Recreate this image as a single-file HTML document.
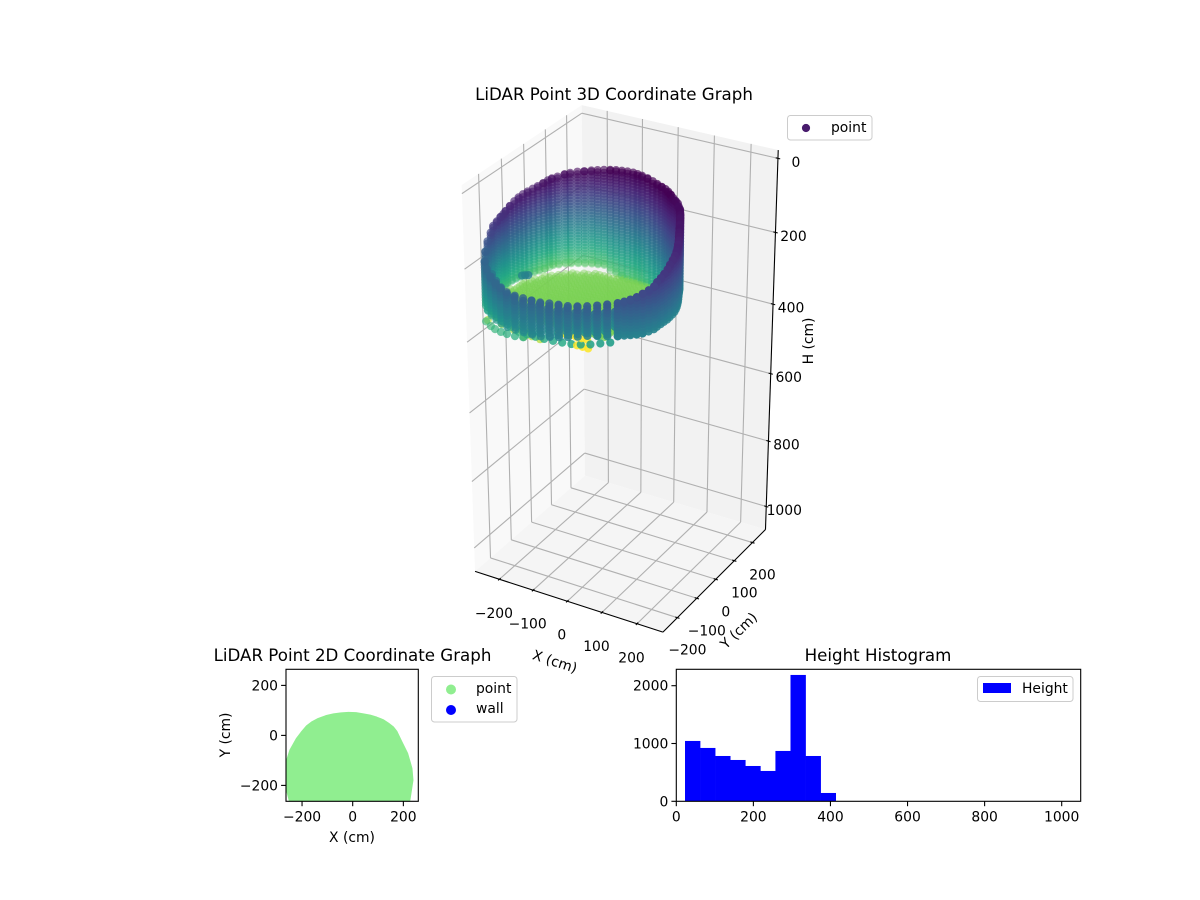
<!DOCTYPE html>
<html lang="en">
<head>
<meta charset="utf-8">
<title>LiDAR Point Graphs</title>
<style>
html,body{margin:0;padding:0;background:#fff}
svg{display:block}
text{font-family:"DejaVu Sans","Liberation Sans",sans-serif;fill:#000}
.t{font-size:13.89px}
.h{font-size:16.67px}
</style>
</head>
<body>
<svg id="figure" xmlns="http://www.w3.org/2000/svg" width="1200" height="900" viewBox="0 0 1200 900">
  <rect width="1200" height="900" fill="#fff"/>
  <defs>
    <clipPath id="clip2d"><rect x="286" y="669.3" width="132.3" height="132"/></clipPath>
  </defs>

  <g id="chart3d"></g>
  <text class="h" x="614" y="100" text-anchor="middle">LiDAR Point 3D Coordinate Graph</text>
  <g>
    <rect x="787.5" y="115.5" width="84.5" height="24.5" rx="3" fill="#fff" fill-opacity="0.8" stroke="#ccc"/>
    <circle cx="806" cy="128" r="4.1" fill="#481b6d"/>
    <text class="t" x="831" y="132">point</text>
  </g>
  <text class="t" text-anchor="middle" transform="translate(553.5 666) rotate(18)">X (cm)</text>
  <text class="t" text-anchor="middle" transform="translate(742 634) rotate(-44)">Y (cm)</text>
  <text class="t" text-anchor="middle" transform="translate(813 341) rotate(-90)">H (cm)</text>

  <g id="chart2d"></g>
  <text class="h" x="352.5" y="661" text-anchor="middle">LiDAR Point 2D Coordinate Graph</text>
  <text class="t" x="352" y="842" text-anchor="middle">X (cm)</text>
  <text class="t" text-anchor="middle" transform="translate(230 735) rotate(-90)">Y (cm)</text>
  <g>
    <rect x="431.5" y="676.5" width="85.5" height="45.5" rx="3" fill="#fff" fill-opacity="0.8" stroke="#ccc"/>
    <circle cx="451" cy="689.5" r="5" fill="#90ee90"/>
    <text class="t" x="476" y="693">point</text>
    <circle cx="451" cy="710" r="5" fill="#0000ff"/>
    <text class="t" x="476" y="713">wall</text>
  </g>

  <g id="charthist"></g>
  <text class="h" x="878" y="661" text-anchor="middle">Height Histogram</text>
  <g>
    <rect x="977.5" y="676.5" width="95.5" height="25" rx="3" fill="#fff" fill-opacity="0.8" stroke="#ccc"/>
    <rect x="983" y="683" width="28" height="10" fill="#0000ff"/>
    <text class="t" x="1022" y="693">Height</text>
  </g>
</svg>

<script>
// ---- histogram data ----
const histEdgeStart = 22.6;
const histBinWidth = 39.1;
const histCounts = [1044, 923, 784, 715, 611, 525, 871, 2186, 784, 144];
const histXTicks = [0, 200, 400, 600, 800, 1000];
const histYTicks = [0, 1000, 2000];

// ---- 2D / 3D ticks ----
const xTicks2d = [-200, 0, 200];
const yTicks2d = [-200, 0, 200];
const xTicks3d = [-200, -100, 0, 100, 200];
const yTicks3d = [-200, -100, 0, 100, 200];
const hTicks3d = [0, 200, 400, 600, 800, 1000];

// ---- 2D footprint outline ----
const footprintX = [-250,-264,-264,-247,-221,-203,-182,-160,-136,-106,-76,-46,-17,13,42,69,95,120,141,160,174,193,216,233,237,229,224,150,-150,-240];
const footprintY = [-259,-205,-112,-59,-12,12,37,54,67,78,85,89,91,90,85,80,72,62,48,33,15,-25,-72,-132,-179,-232,-264,-300,-300,-280];

// ---- point cloud data: wall columns around the room ----
const wallX = [-15,-3,10,26,42,56,70,82,92,102,112,122,131,138,146,152,157,162,167,172,178,184,190,196,201,206,210,214,216,217,218,217,216,214,214,208,200,190,178,165,150,125,100,75,50,25,0,-25,-50,-75,-100,-125,-150,-172,-192,-212,-230,-245,-254,-257,-257,-256,-255,-254,-252,-252,-249,-246,-243,-240,-234,-227,-220,-212,-205,-198,-188,-176,-165,-150,-135,-120,-105,-90,-75,-60,-45,-30];
const wallY = [79,79,78,76,73,70,67,64,60,54,48,42,36,28,20,10,2,-8,-18,-28,-40,-52,-64,-76,-88,-100,-112,-126,-140,-155,-168,-182,-196,-210,-224,-238,-252,-262,-270,-276,-280,-285,-288,-291,-293,-295,-295,-295,-295,-293,-290,-287,-283,-275,-265,-255,-243,-228,-210,-195,-180,-170,-155,-140,-130,-120,-105,-90,-75,-60,-48,-36,-24,-12,-2,5,15,28,36,45,52,60,64,69,73,75,77,78];
const wallRim = [27,28,29,31,34,37,40,42,45,48,52,55,57,60,62,65,67,70,73,76,80,84,88,92,96,99,102,106,110,116,122,128,133,138,143,148,153,160,166,172,178,186,194,201,207,212,215,218,222,224,226,227,226,224,220,212,202,192,175,155,138,124,118,112,108,104,96,89,84,81,77,73,69,64,59,55,52,48,45,42,40,38,35,33,31,29,28,27];
const wallBase = [320,320,318,316,314,310,306,300,294,292,290,288,286,280,275,270,265,262,260,258,256,255,255,255,255,255,255,255,255,255,255,255,255,256,256,257,258,259,260,262,266,270,275,280,288,295,302,308,313,316,318,319,320,320,320,318,315,312,310,307,301,300,300,300,300,300,300,300,300,300,300,300,300,298,296,292,292,292,292,292,292,292,292,292,305,310,315,320,320,320];
const wallColorTop = [0,0,0,0,0,0,0,0,0,0,.01,.02,.02,.03,.03,.03,.04,.05,.05,.06,.06,.07,.08,.09,.10,.10,.11,.12,.13,.14,.15,.16,.17,.18,.20,.21,.22,.24,.25,.26,.27,.28,.29,.30,.30,.31,.31,.31,.32,.32,.32,.32,.32,.33,.33,.33,.33,.32,.30,.25,.20,.17,.15,.14,.13,.12,.10,.09,.08,.07,.07,.06,.06,.05,.05,.04,.04,.03,.03,.02,.02,.02,.01,.01,0,0,0,0];
const wallColorBottom = [.72,.72,.70,.68,.65,.62,.58,.55,.52,.50,.48,.47,.46,.45,.45,.45,.45,.45,.45,.45,.45,.45,.45,.44,.44,.44,.44,.44,.44,.44,.44,.44,.44,.44,.44,.44,.44,.44,.44,.44,.44,.44,.44,.44,.44,.44,.44,.44,.45,.46,.47,.48,.50,.52,.54,.56,.58,.60,.62,.62,.64,.66,.68,.68,.68,.68,.68,.68,.68,.68,.70,.72,.74,.74,.74,.74,.74,.74,.74,.74,.74,.74,.73,.73,.73,.73,.72,.72];
const wallLevels = [33,41,49,57,65,73,81,89,97,105,113,121,129,137,145,153,161,169,177,185,193,201,209,217,225,233,241,249,257,265,273,281,289,297,305,313,321,329,337,345,353];

// second layer of the front wall, seen between the front columns
const innerX = [190,165,137,112,87,62,37,12,-12,-37,-62,-87,-112,-137,-160,-182,-202,-221];
const innerY = [-250,-262,-270,-274,-277,-279,-281,-282,-282,-282,-281,-278,-275,-271,-265,-257,-247,-235];
const innerRim = [185,195,205,212,218,224,228,232,235,238,240,242,242,240,236,228,218,210];
const innerBase = [240,245,255,265,275,285,293,300,305,310,314,318,320,320,318,315,312,308];
const innerColorRange = [0.36, 0.5];

// lower skirt of points beneath the front wall
const skirtX = [130,105,80,55,30,5,-20,-45,-70,-95,-120,-145,-170,-190,-210,-228,-243,-235,-215,-195,-172,-150,-125,-100];
const skirtY = [-280,-283,-286,-288,-289,-289,-289,-288,-286,-284,-281,-277,-270,-260,-250,-238,-224,-245,-255,-268,-278,-286,-290,-293];
const skirtH = [288,296,304,310,315,318,320,322,324,325,326,322,318,314,312,310,308,345,348,345,342,338,335,330];
const skirtColor = [.55,.56,.57,.58,.59,.60,.60,.60,.61,.62,.63,.65,.67,.68,.69,.70,.70,.66,.66,.65,.64,.63,.62,.61];

// deepest (yellow) returns
const deepX = [-5,10,25,40,55,70,45,60,75];
const deepY = [-284,-284,-284,-284,-284,-284,-288,-288,-288];
const deepH = [295,295,295,295,295,295,315,315,315];

const floorXs = [-262,-250,-237,-225,-212,-200,-187,-175,-162,-150,-137,-125,-112,-100,-87,-75,-62,-50,-37,-25,-12,0,12,25,37,50,62,75,87,100,112,125,137,150,162,175,187,200,212,225];
const floorYs = [75,62,50,37,25,12,0,-12,-25,-37,-50,-62,-75,-87,-100,-112,-125,-137,-150,-162,-175,-187,-200,-212];
const floorRowMaxX = [100,100,120,130,130,130,130,130,130,130,130,125,125,120,120,115,110,105,100,95,90,85,80,75];
const floorHeight = [320];
const extraX = [-127,-117,-107,-240,-200,-160,-120,-240,-200,-160,-120,-80,-220,-180,-140,-100];
const extraY = [-250,-252,-254,-230,-230,-240,-260,-200,-200,-210,-230,-250,-215,-225,-240,-255];
const extraH = [190,186,182,350,350,350,350,350,350,350,350,350,345,345,345,345];

// ---- axis limits ----
const xLim3d = [-273, 273];
const yLim3d = [-273, 273];
const hLim3d = [-22, 1072];
const heightColorRange = [23, 395];
const viridisStops = ['#440154','#482475','#414487','#355f8d','#2a788e','#21918c','#22a884','#44bf70','#7ad151','#bddf26','#fde725'];

const NS = 'http://www.w3.org/2000/svg';
function mk(tag, parent, attrs) {
  const el = document.createElementNS(NS, tag);
  for (const k in attrs) el.setAttribute(k, attrs[k]);
  parent.appendChild(el);
  return el;
}

// ---- histogram ----
(function () {
  const g = document.getElementById('charthist');
  const L = 676.3, R = 1080.7, T = 669.3, B = 801.3;
  const sx = v => L + v * 0.3854;
  const sy = v => B - v * 0.0578;
  histCounts.forEach((c, i) => {
    const x0 = sx(histEdgeStart + i * histBinWidth);
    const x1 = sx(histEdgeStart + (i + 1) * histBinWidth);
    const bar = mk('rect', g, {x: x0, y: sy(c), width: x1 - x0 + 0.3, height: B - sy(c), fill: '#0000ff'});
    
    
  });
  histXTicks.forEach(v => {
    const tick = mk('line', g, {x1: sx(v), x2: sx(v), y1: B, y2: B + 4.9, stroke: '#000', 'stroke-width': 1.1});
    
    
    const label = mk('text', g, {x: sx(v), y: B + 20, 'text-anchor': 'middle', class: 't'});
    label.textContent = v;
    
    
  });
  histYTicks.forEach(v => {
    const tick = mk('line', g, {x1: L - 4.9, x2: L, y1: sy(v), y2: sy(v), stroke: '#000', 'stroke-width': 1.1});
    
    
    const label = mk('text', g, {x: L - 8, y: sy(v) + 5, 'text-anchor': 'end', class: 't'});
    label.textContent = v;
    
    
  });
  const frame = mk('rect', g, {x: L, y: T, width: R - L, height: B - T, fill: 'none', stroke: '#000', 'stroke-width': 1.1});
  
  
})();

// ---- 2D footprint ----
(function () {
  const g = document.getElementById('chart2d');
  const L = 286, R = 418.3, T = 669.3, B = 801.3;
  const sx = v => 352.7 + v * 0.2533;
  const sy = v => 735.4 - v * 0.25;
  const pts = footprintX.map((x, i) => sx(x) + ',' + sy(footprintY[i])).join(' ');
  const shape = mk('polygon', g, {points: pts, fill: '#90ee90', stroke: '#90ee90', 'stroke-width': 1.5, 'stroke-linejoin': 'round', 'clip-path': 'url(#clip2d)'});
  
  
  xTicks2d.forEach(v => {
    const tick = mk('line', g, {x1: sx(v), x2: sx(v), y1: B, y2: B + 4.9, stroke: '#000', 'stroke-width': 1.1});
    
    
    const label = mk('text', g, {x: sx(v), y: B + 20, 'text-anchor': 'middle', class: 't'});
    label.textContent = String(v).replace('-', '\u2212');
    
    
  });
  yTicks2d.forEach(v => {
    const tick = mk('line', g, {x1: L - 4.9, x2: L, y1: sy(v), y2: sy(v), stroke: '#000', 'stroke-width': 1.1});
    
    
    const label = mk('text', g, {x: L - 8, y: sy(v) + 5, 'text-anchor': 'end', class: 't'});
    label.textContent = String(v).replace('-', '\u2212');
    
    
  });
  const frame = mk('rect', g, {x: L, y: T, width: R - L, height: B - T, fill: 'none', stroke: '#000', 'stroke-width': 1.1});
  
  
})();

// ---- 3D chart ----
(function () {
  const g = document.getElementById('chart3d');
  // box roughly proportional to the data ranges
  const k = 1.8294640721620434 / Math.sqrt(6);
  const box = [1 * k, 1 * k, 2.08 * k];
  const el = 30 * Math.PI / 180, az = -60 * Math.PI / 180, dist = 9;
  const dir = [Math.cos(el) * Math.cos(az), Math.cos(el) * Math.sin(az), Math.sin(el)];
  const center = box.map(b => b / 2);
  const eye = center.map((c, i) => c + dist * dir[i]);
  const cross = (a, b) => [a[1]*b[2]-a[2]*b[1], a[2]*b[0]-a[0]*b[2], a[0]*b[1]-a[1]*b[0]];
  const dot = (a, b) => a[0]*b[0] + a[1]*b[1] + a[2]*b[2];
  const w = dir;
  let u = cross([0, 0, 1], w);
  const un = Math.sqrt(dot(u, u));
  u = u.map(c => c / un);
  const v = cross(w, u);

  function raw(x, y, h) {
    const p = [
      (x - xLim3d[0]) / (xLim3d[1] - xLim3d[0]) * box[0],
      (y - yLim3d[0]) / (yLim3d[1] - yLim3d[0]) * box[1],
      (hLim3d[1] - h) / (hLim3d[1] - hLim3d[0]) * box[2]
    ];
    const d = [p[0] - eye[0], p[1] - eye[1], p[2] - eye[2]];
    const depth = -dot(d, w);
    return [dot(d, u) / depth, dot(d, v) / depth, depth];
  }

  const X0 = xLim3d[0], X1 = xLim3d[1], Y0 = yLim3d[0], Y1 = yLim3d[1], HT = hLim3d[0], HB = hLim3d[1];
  // calibration of the view onto figure pixels, from the box corners
  const calib = [
    [X0, Y0, HB, 474, 572], [X1, Y0, HB, 663, 635], [X1, Y1, HB, 766, 528], [X0, Y1, HB, 584, 472],
    [X0, Y0, HT, 463, 190], [X0, Y1, HT, 582, 106], [X1, Y1, HT, 778, 146]
  ];
  function fit(ax, px) {
    const n = ax.length, ma = ax.reduce((s, a) => s + a, 0) / n, mp = px.reduce((s, a) => s + a, 0) / n;
    let num = 0, den = 0;
    ax.forEach((a, i) => { num += (a - ma) * (px[i] - mp); den += (a - ma) * (a - ma); });
    const m = num / den;
    return [m, mp - m * ma];
  }
  const rawC = calib.map(c => raw(c[0], c[1], c[2]));
  const fx = fit(rawC.map(r => r[0]), calib.map(c => c[3]));
  const fy = fit(rawC.map(r => r[1]), calib.map(c => c[4]));
  function P(x, y, h) {
    const r = raw(x, y, h);
    return [fx[0] * r[0] + fx[1], fy[0] * r[1] + fy[1], r[2]];
  }
  function poly(corners, fill, name) {
    const pts = corners.map(c => { const p = P(c[0], c[1], c[2]); return p[0] + ',' + p[1]; }).join(' ');
    const el = mk('polygon', g, {points: pts, fill: fill});
    
    
  }
  function seg(a, b, stroke, sw, name) {
    const p = P(a[0], a[1], a[2]), q = P(b[0], b[1], b[2]);
    const el = mk('line', g, {x1: p[0], y1: p[1], x2: q[0], y2: q[1], stroke: stroke, 'stroke-width': sw});
    
    
  }
  poly([[X0,Y0,HB],[X0,Y1,HB],[X0,Y1,HT],[X0,Y0,HT]], '#f9f9f9', 'left-pane');
  poly([[X0,Y1,HB],[X1,Y1,HB],[X1,Y1,HT],[X0,Y1,HT]], '#f2f2f2', 'back-pane');
  poly([[X0,Y0,HB],[X1,Y0,HB],[X1,Y1,HB],[X0,Y1,HB]], '#f5f5f5', 'floor-pane');

  const grid = '#b0b0b0';
  xTicks3d.forEach(t => {
    seg([t, Y0, HB], [t, Y1, HB], grid, 1.1, 'x-gridline-floor');
    seg([t, Y1, HB], [t, Y1, HT], grid, 1.1, 'x-gridline-wall');
  });
  yTicks3d.forEach(t => {
    seg([X0, t, HB], [X1, t, HB], grid, 1.1, 'y-gridline-floor');
    seg([X0, t, HB], [X0, t, HT], grid, 1.1, 'y-gridline-wall');
  });
  hTicks3d.forEach(t => {
    seg([X0, Y0, t], [X0, Y1, t], grid, 1.1, 'h-gridline-left');
    seg([X0, Y1, t], [X1, Y1, t], grid, 1.1, 'h-gridline-back');
  });
  seg([X0, Y0, HB], [X1, Y0, HB], '#000', 1.1, 'x-axis-line');
  seg([X1, Y0, HB], [X1, Y1, HB], '#000', 1.1, 'y-axis-line');
  seg([X1, Y1, HB], [X1, Y1, HT], '#000', 1.1, 'h-axis-line');

  xTicks3d.forEach(t => {
    seg([t, Y0 + 6, HB], [t, Y0 - 6, HB], '#000', 1.1, 'x-tick');
    const p = P(t, Y0, HB);
    const label = mk('text', g, {x: p[0] - 5.5, y: p[1] + 38.5, 'text-anchor': 'middle', class: 't'});
    label.textContent = String(t).replace('-', '\u2212');
    
    
  });
  yTicks3d.forEach(t => {
    seg([X1 - 6, t, HB], [X1 + 6, t, HB], '#000', 1.1, 'y-tick');
    const p = P(X1, t, HB);
    const label = mk('text', g, {x: p[0] + 10, y: p[1] + 37, 'text-anchor': 'middle', class: 't'});
    label.textContent = String(t).replace('-', '\u2212');
    
    
  });
  hTicks3d.forEach(t => {
    seg([X1 - 6, Y1, t], [X1 + 6, Y1, t], '#000', 1.1, 'h-tick');
    const p = P(X1, Y1, t);
    const label = mk('text', g, {x: p[0] + 18, y: p[1] + 8.5, 'text-anchor': 'middle', class: 't'});
    label.textContent = t;
    
    
  });

  function colorAt(frac) {
    const t = Math.max(0, Math.min(1, frac)) * (viridisStops.length - 1);
    const i = Math.min(Math.floor(t), viridisStops.length - 2), f = t - i;
    const a = viridisStops[i], b = viridisStops[i + 1];
    const c = [1, 3, 5].map(o => Math.round(parseInt(a.substr(o, 2), 16) * (1 - f) + parseInt(b.substr(o, 2), 16) * f));
    return 'rgb(' + c.join(',') + ')';
  }
  const heightFrac = h => (h - heightColorRange[0]) / (heightColorRange[1] - heightColorRange[0]);
  function inside(x, y) {
    let c = false;
    for (let i = 0, j = wallX.length - 1; i < wallX.length; j = i++) {
      if ((wallY[i] > y) !== (wallY[j] > y) && x < (wallX[j] - wallX[i]) * (y - wallY[i]) / (wallY[j] - wallY[i]) + wallX[i]) c = !c;
    }
    return c;
  }
  const cloud = [];
  wallX.forEach((x, i) => {
    const rim = wallRim[i], base = wallBase[i], t0 = wallColorTop[i], t1 = wallColorBottom[i];
    const frac = h => t0 + (t1 - t0) * (h - rim) / (base - rim);
    cloud.push([x, wallY[i], rim, t0]);
    wallLevels.forEach(h => {
      if (h > rim && h < base) cloud.push([x, wallY[i], h, frac(h)]);
    });
    cloud.push([x, wallY[i], base, t1]);
  });
  innerX.forEach((x, i) => {
    const rim = innerRim[i], base = innerBase[i];
    wallLevels.forEach(h => {
      if (h >= rim && h <= base) {
        cloud.push([x, innerY[i], h, innerColorRange[0] + (innerColorRange[1] - innerColorRange[0]) * (h - rim) / (base - rim)]);
      }
    });
  });
  skirtX.forEach((x, i) => cloud.push([x, skirtY[i], skirtH[i], skirtColor[i]]));
  deepX.forEach((x, i) => cloud.push([x, deepY[i], deepH[i], 1]));
  floorYs.forEach((y, j) => {
    floorXs.forEach(x => {
      if (x <= floorRowMaxX[j] && inside(x, y)) cloud.push([x, y, floorHeight[0], heightFrac(floorHeight[0])]);
    });
  });
  extraX.forEach((x, i) => cloud.push([x, extraY[i], extraH[i], heightFrac(extraH[i])]));

  const marks = cloud.map(c => {
    const p = P(c[0], c[1], c[2]);
    return {sx: p[0], sy: p[1], d: p[2], t: c[3]};
  });
  marks.sort((a, b) => b.d - a.d);
  const dMax = marks[0].d, dMin = marks[marks.length - 1].d;
  const cg = mk('g', g, {});
  
  
  marks.forEach(m => {
    const dot3 = mk('circle', cg, {
      cx: m.sx.toFixed(2), cy: m.sy.toFixed(2), r: 4.1,
      fill: colorAt(m.t), 'fill-opacity': (1 - 0.58 * (m.d - dMin) / (dMax - dMin)).toFixed(3)
    });
    
    
  });
})();
</script>
</body>
</html>
